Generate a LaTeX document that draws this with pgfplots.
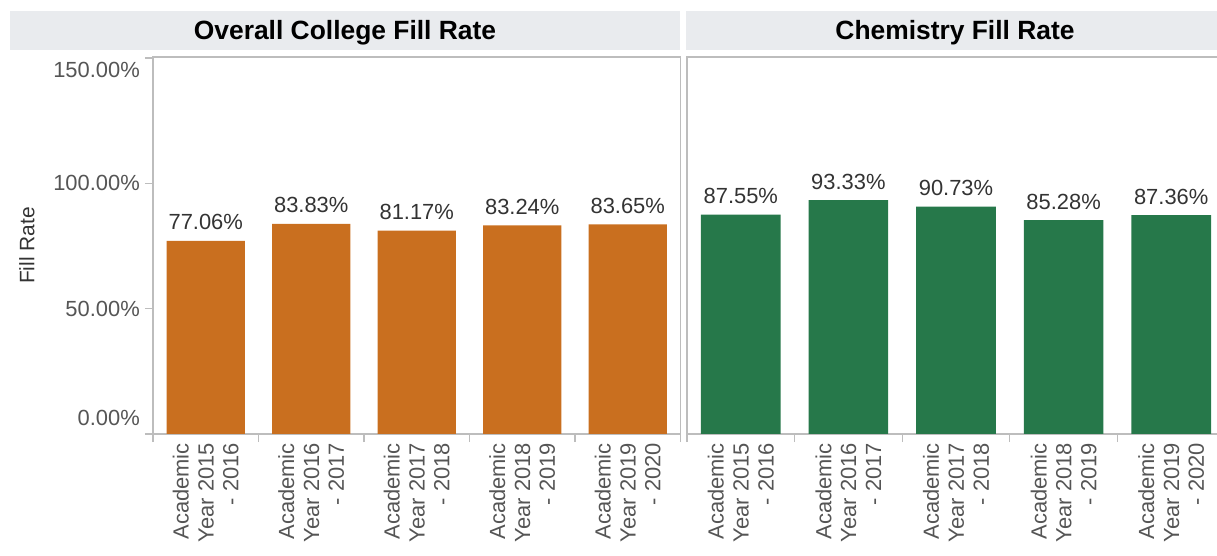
\documentclass[border=0pt]{standalone}
\usepackage{pgfplots}
\pgfplotsset{compat=1.18}
\usepackage{fontspec}
\setmainfont{Liberation Sans}
\definecolor{barorange}{HTML}{C96F1F}
\definecolor{bargreen}{HTML}{26784A}
\definecolor{hdr}{HTML}{E9EBEE}
\definecolor{axgray}{HTML}{BDBDBD}
\definecolor{lblgray}{HTML}{555555}
\definecolor{valgray}{HTML}{333333}
\pgfplotsset{
  panel/.style={
    scale only axis, height=377bp,
    xmin=-0.5, xmax=4.5, ymin=0, ymax=150.4,
    axis line style={axgray, line width=1.2bp},
    ybar, bar width=0.74, bar shift=0pt,
    xtick pos=bottom, ytick pos=left,
    xtick={-0.5,0.5,1.5,2.5,3.5,4.5}, xticklabels={},
    extra x ticks={0,1,2,3,4},
    extra x tick labels={{Academic\\Year 2015\\- 2016},{Academic\\Year 2016\\- 2017},{Academic\\Year 2017\\- 2018},{Academic\\Year 2018\\- 2019},{Academic\\Year 2019\\- 2020}},
    extra x tick style={major tick length=0pt, tick style={draw=none}},
    tick align=outside, major tick length=8bp,
    tick style={axgray, line width=1.2bp},
    xticklabel style={rotate=90, anchor=east, align=right, inner ysep=0pt, inner xsep=9bp,
      font=\fontsize{22}{25}\selectfont, text=lblgray},
    point meta=explicit symbolic,
    nodes near coords,
    every node near coord/.append style={font=\fontsize{22}{26}\selectfont,
      text=valgray, anchor=base, yshift=11bp, inner sep=0pt},
  }
}
\begin{document}
\begin{tikzpicture}
\useasboundingbox (0,0) rectangle (1217bp,556bp);
\begin{axis}[panel, width=527.5bp, at={(153bp,122bp)}, anchor=south west,
  ytick={0,50,100,150},
  yticklabels={\raisebox{16bp}[\height][\depth]{0.00\%},50.00\%,100.00\%,\raisebox{-12bp}[\height][\depth]{150.00\%}},
  yticklabel style={font=\fontsize{22}{26}\selectfont, text=lblgray, inner sep=0pt, xshift=-5bp},
  ylabel={Fill Rate},
  ylabel style={font=\fontsize{21}{25}\selectfont, text=valgray, at={(axis description cs:-0.2389,0.5)}, anchor=center},
]
\addplot[fill=barorange, draw=none] coordinates {
  (0,77.06) [77.06\%]
  (1,83.83) [83.83\%]
  (2,81.17) [81.17\%]
  (3,83.24) [83.24\%]
  (4,83.65) [83.65\%]
};
\end{axis}
\begin{axis}[panel, width=538bp, at={(687bp,122bp)}, anchor=south west,
  ytick=\empty]
\addplot[fill=bargreen, draw=none] coordinates {
  (0,87.55) [87.55\%]
  (1,93.33) [93.33\%]
  (2,90.73) [90.73\%]
  (3,85.28) [85.28\%]
  (4,87.36) [87.36\%]
};
\end{axis}
\fill[hdr] (10bp,506bp) rectangle (680bp,545bp);
\fill[hdr] (686bp,506bp) rectangle (1225bp,545bp);
\node[anchor=base, font=\bfseries\fontsize{26.5}{30}\selectfont, inner sep=0pt] at (345bp,516.7bp) {Overall College Fill Rate};
\node[anchor=base, font=\bfseries\fontsize{26.5}{30}\selectfont, inner sep=0pt] at (955bp,516.7bp) {Chemistry Fill Rate};
\end{tikzpicture}
\end{document}
